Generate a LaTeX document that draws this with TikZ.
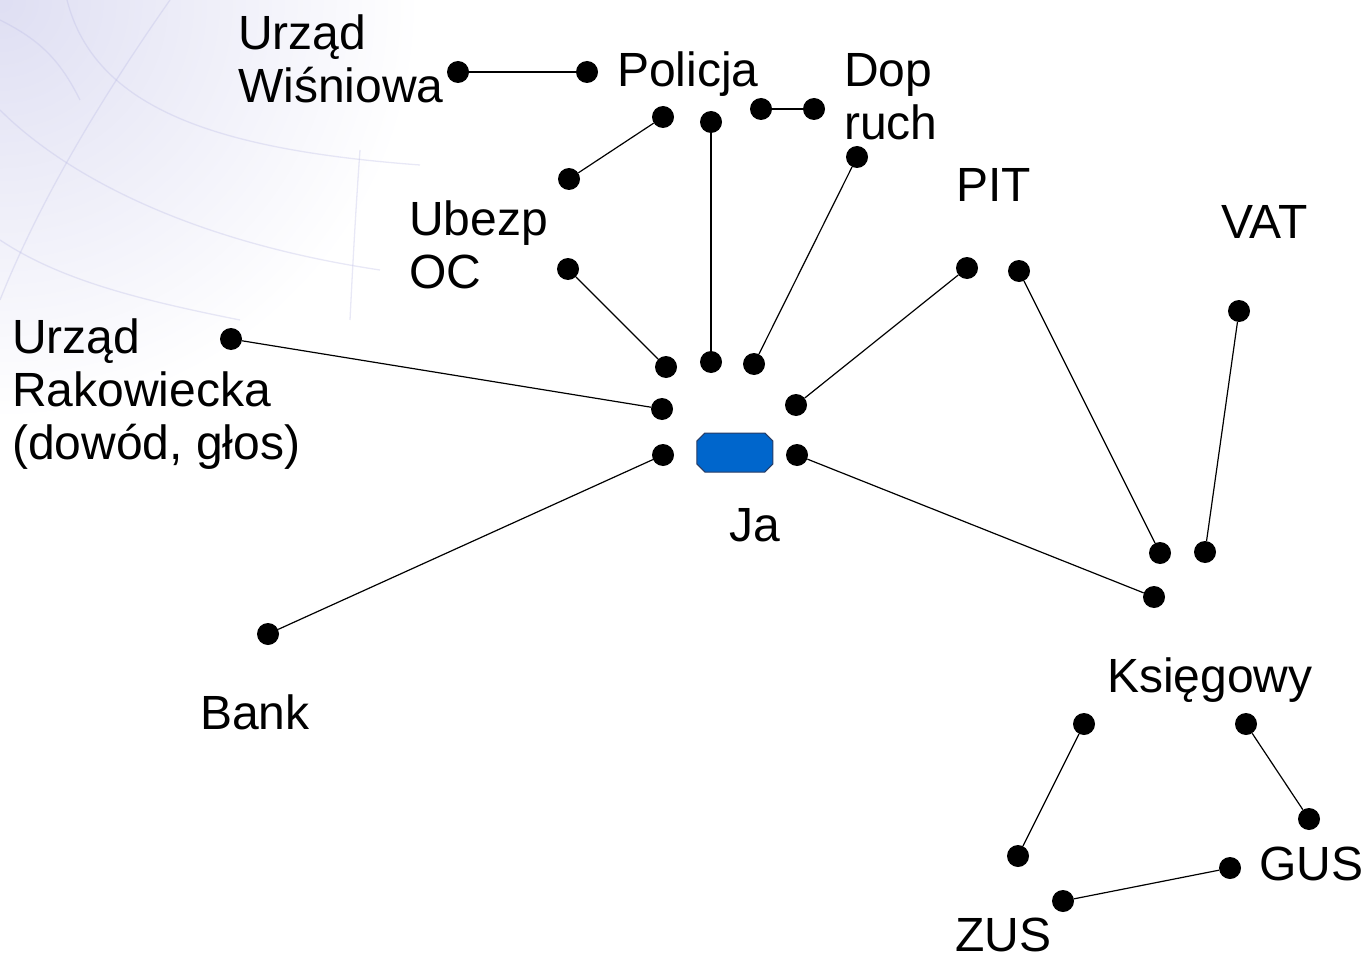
\documentclass[tikz,border=0pt]{standalone}
\usepackage{fontspec}
\setmainfont{Liberation Sans}
\usepackage{tikz}
\definecolor{meblue}{RGB}{0,102,204}
\definecolor{meedge}{RGB}{40,60,100}
\definecolor{globe}{RGB}{190,190,230}
\tikzset {
  % black vertex
  dot/.style = {circle, fill=black, inner sep=0pt, minimum size=22pt},
  % text beside the vertices
  lbl/.style = {anchor=base west, inner sep=0pt, align=left,
                font=\fontsize{48}{53}\selectfont},
  % the centre person
  me/.style = {rectangle, inner sep=0pt, minimum width=76pt, minimum height=39pt},
  mebox/.style = {fill=meblue, draw=meedge, line width=1pt},
  link/.style = {line width=1.2pt},
  grid/.style = {globe, line width=1.3pt, opacity=0.35},
}

\begin{document}
\begin{tikzpicture}[x=1pt, y=-1pt]
  \useasboundingbox (0,0) rectangle (1365,960);

  % faint globe in the corner
  \shade[inner color=globe!50, outer color=white] (0,0) circle (420);
  \draw[grid] (67,0) .. controls (95,110) and (220,150) .. (420,165);
  \draw[grid] (0,110) .. controls (60,170) and (180,240) .. (380,270);
  \draw[grid] (0,240) .. controls (60,280) and (140,300) .. (240,320);
  \draw[grid] (170,0) .. controls (100,100) and (40,200) .. (0,300);
  \draw[grid] (0,20) .. controls (40,40) and (60,60) .. (80,100);
  \draw[grid] (360,150) .. controls (355,220) and (352,280) .. (350,320);

  % vertices
  \node[dot] (uw) at (458,72) {};
  \node[dot] (pa) at (587,72) {};
  \node[dot] (pb) at (663,117) {};
  \node[dot] (pc) at (711,122) {};
  \node[dot] (pd) at (761,109) {};
  \node[dot] (da) at (814,109) {};
  \node[dot] (db) at (857,157) {};
  \node[dot] (ua) at (569,179) {};
  \node[dot] (ub) at (568,269) {};
  \node[dot] (ur) at (231,339) {};
  \node[dot] (bk) at (268,634) {};

  \node[dot] (j1) at (666,367) {};
  \node[dot] (j2) at (711,362) {};
  \node[dot] (j3) at (754,364) {};
  \node[dot] (j4) at (662,409) {};
  \node[dot] (j5) at (663,455) {};
  \node[dot] (j6) at (796,405) {};
  \node[dot] (j7) at (797,455) {};
  \node[me] (ja) at (735,452.5) {};
  \draw[mebox] (ja.west) ++(0,-11.5) -- ++(8,-8) -- ++(60,0) -- ++(8,8)
    -- ++(0,23) -- ++(-8,8) -- ++(-60,0) -- ++(-8,-8) -- cycle;

  \node[dot] (pt1) at (967,268) {};
  \node[dot] (pt2) at (1019,271) {};
  \node[dot] (vt) at (1239,311) {};

  \node[dot] (k1) at (1160,553) {};
  \node[dot] (k2) at (1205,552) {};
  \node[dot] (k3) at (1154,597) {};
  \node[dot] (k4) at (1084,724) {};
  \node[dot] (k5) at (1246,724) {};
  \node[dot] (z1) at (1018,856) {};
  \node[dot] (z2) at (1063,901) {};
  \node[dot] (g1) at (1309,819) {};
  \node[dot] (g2) at (1230,868) {};

  % labels (base = last line)
  \node[lbl] (lwis) at (238,103) {Urząd\\Wiśniowa};
  \node[lbl] (lpol) at (617,87) {Policja};
  \node[lbl] (ldop) at (844,140) {Dop\\ruch};
  \node[lbl] (lube) at (409,288) {Ubezp\\OC};
  \node[lbl] (lrak) at (12,459) {Urząd\\Rakowiecka\\(dowód, głos)};
  \node[lbl] (lpit) at (956,202) {PIT};
  \node[lbl] (lvat) at (1221,239) {VAT};
  \node[lbl, anchor=base] (lja) at (755,541) {Ja};
  \node[lbl] (lbank) at (200,729) {Bank};
  \node[lbl] (lksi) at (1107,692) {Księgowy};
  \node[lbl] (lgus) at (1259,880) {GUS};
  \node[lbl] (lzus) at (955,951) {ZUS};

  % connections
  \draw[link] (uw) -- (pa);
  \draw[link] (pd) -- (da);
  \draw[link] (pb) -- (ua);
  \draw[link] (pc) -- (j2);
  \draw[link] (db) -- (j3);
  \draw[link] (ub) -- (j1);
  \draw[link] (ur) -- (j4);
  \draw[link] (j5) -- (bk);
  \draw[link] (pt1) -- (j6);
  \draw[link] (j7) -- (k3);
  \draw[link] (pt2) -- (k1);
  \draw[link] (vt) -- (k2);
  \draw[link] (k4) -- (z1);
  \draw[link] (k5) -- (g1);
  \draw[link] (z2) -- (g2);
\end{tikzpicture}
\end{document}
